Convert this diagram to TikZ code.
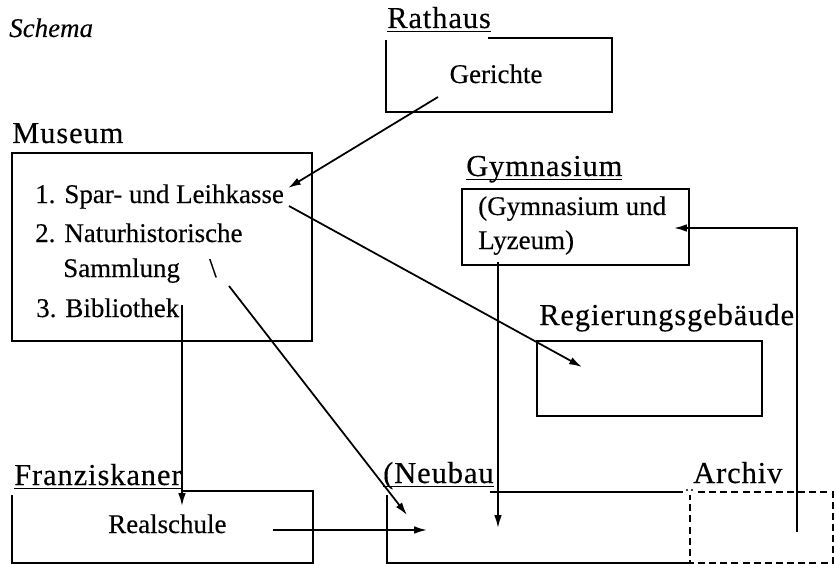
\documentclass[tikz,border=0pt]{standalone}
\usepackage{fontspec}
\setmainfont[FakeBold=0.3]{Liberation Serif}
\newfontfamily\kopffont[LetterSpace=3,FakeBold=0.3]{Liberation Serif}
\usetikzlibrary{arrows.meta}

\newcommand\uln[1]{\setbox0\hbox{#1}\rlap{\rule[-3.6pt]{\wd0}{0.9pt}}\box0}

\tikzset{
  kasten/.style={line width=1.6pt},
  strich/.style={line width=1.6pt, dash pattern=on 6pt off 3.5pt},
  pfeil/.style={line width=1.5pt, -{Latex[length=11pt,width=6.5pt]}},
  kopf/.style={anchor=base west, inner sep=0pt, font=\kopffont\fontsize{26}{30}\selectfont},
  eintrag/.style={anchor=base west, inner sep=0pt, font=\fontsize{23}{28}\selectfont},
}

\begin{document}
\begin{tikzpicture}[x=0.03cm, y=-0.03cm]
    \useasboundingbox (0,0) rectangle (836,564);

    % titel
    \node[eintrag, font=\itshape\fontsize{23}{28}\selectfont] (schema) at (9,37) {Schema};

    % rathaus
    \node[kopf] (rathausK) at (387,28) {\uln{Rathaus}};
    \draw[kasten] (488,38) -| (612,112) -| (386,40);
    \node[eintrag, anchor=base] (gerichte) at (496,83) {Gerichte};

    % museum
    \node[kopf] (museumK) at (12,143) {Museum};
    \draw[kasten] (12,153) rectangle (312,341);
    \node[eintrag] (spar) at (35,203) {1. Spar- und Leihkasse};
    \node[eintrag] (natur) at (35,242) {2. Naturhistorische};
    \node[eintrag] (samml) at (63,277) {Sammlung};
    \node[eintrag] (strichel) at (209,277) {\textbackslash};
    \node[eintrag] (biblio) at (36,317) {3. Bibliothek};

    % gymnasium
    \node[kopf] (gymK) at (466,176) {\uln{Gymnasium}};
    \draw[kasten] (462,189) rectangle (689,265);
    \node[eintrag] (gym1) at (478,215) {(Gymnasium und};
    \node[eintrag] (gym2) at (478,249) {Lyzeum)};

    % regierungsgebaeude
    \node[kopf] (regK) at (539,325) {Regierungsgebäude};
    \draw[kasten] (537,341) rectangle (762,416);

    % franziskaner
    \node[kopf] (franzK) at (14,485) {\uln{Franziskaner}};
    \draw[kasten] (182,491) -| (313,563) -| (12,495);
    \node[eintrag] (real) at (108,533) {Realschule};

    % neubau und archiv
    \node[kopf] (neubauK) at (383,483) {\uln{(Neubau}};
    \node[kopf] (archivK) at (693,483) {Archiv};
    \draw[kasten] (490,492) -- (683,492);
    \draw[kasten] (387,495) |- (690,563);
    \draw[strich] (698,492) -| (833,563) -| (690,495);
    \fill (687,490) circle (1.1) (692,490) circle (1.1);

    % pfeile
    \coordinate (gerAus) at (438,97);
    \coordinate (sparEin) at (288,188);
    \coordinate (sparAus) at (289,206);
    \coordinate (regEin) at (582,367);
    \coordinate (samAus) at (229,286);
    \coordinate (neuEin1) at (407,515);
    \coordinate (bibAus) at (182,305);
    \coordinate (realEin) at (182,506);
    \coordinate (realAus) at (273,530);
    \coordinate (neuEin2) at (427,530);
    \coordinate (gymAus) at (498,262);
    \coordinate (neuEin3) at (498,528);
    \coordinate (archAus) at (797,532);
    \coordinate (gymEin) at (674,228);

    \draw[pfeil] (gerAus) -- (sparEin);
    \draw[pfeil] (sparAus) -- (regEin);
    \draw[pfeil] (samAus) -- (neuEin1);
    \draw[pfeil] (bibAus) -- (realEin);
    \draw[pfeil] (realAus) -- (neuEin2);
    \draw[pfeil] (gymAus) -- (neuEin3);
    \draw[pfeil] (archAus) |- (gymEin);

\end{tikzpicture}
\end{document}
